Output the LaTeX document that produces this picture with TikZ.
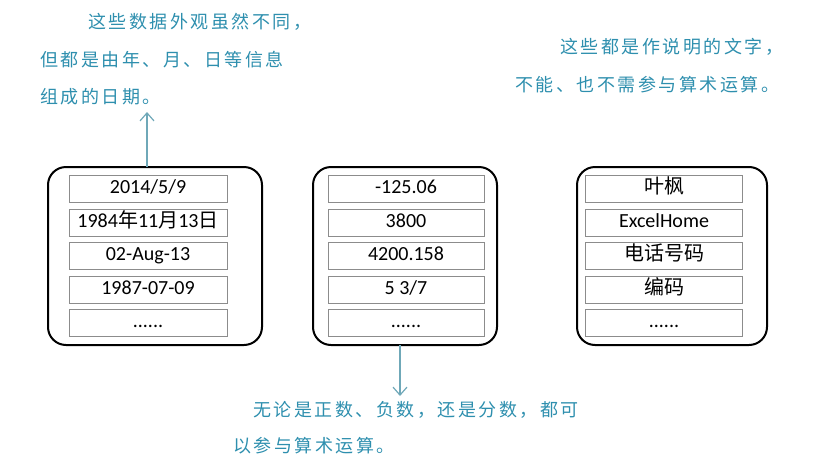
\documentclass[tikz,border=0pt]{standalone}
\usepackage{fontspec}
\setmainfont{Carlito}
\newfontfamily\cjk{Noto Sans CJK SC}
\newfontfamily\anno[LetterSpace=14]{Noto Sans CJK SC}
\usetikzlibrary{arrows.meta,positioning}
\definecolor{annoblue}{HTML}{2E8FAE}
\definecolor{arrowblue}{HTML}{6FA8B8}
\tikzset{
  outerbox/.style={draw=black,line width=2pt,rounded corners=18pt},
  cellbox/.style={draw=black!45,line width=0.8pt,minimum height=27pt,inner sep=0pt,
    text height=13pt,text depth=4pt,font=\fontsize{20}{22}\selectfont},
  annotext/.style={anchor=west,inner sep=0pt,text=annoblue,font=\anno\fontsize{18}{20}\selectfont},
  noteline/.style={draw=arrowblue,line width=1.2pt,-{Straight Barb[length=8pt,width=14pt]}}
}
\begin{document}
\begin{tikzpicture}[x=1pt,y=-1pt]
  \useasboundingbox (0,0) rectangle (817,469);
  % three outer frames
  \draw[outerbox] (48,167) rectangle (262,345);
  \draw[outerbox] (313,167) rectangle (497,345);
  \draw[outerbox] (577,167) rectangle (767,345);
  % cells: x of centre / width / texts
  \foreach \col/\cx/\w/\a/\b/\c/\d in {
      l/148/158/{2014\slash 5\slash 9}/{1984{\cjk 年}11{\cjk 月}13{\cjk 日}}/02-Aug-13/1987-07-09,
      m/406/156/-125.06/3800/4200.158/{5 3\slash 7},
      r/664/157/{\cjk 叶枫}/ExcelHome/{\cjk 电话号码}/{\cjk 编码}} {
    \node[cellbox,minimum width=\w pt] (\col1) at (\cx,189) {\a};
    \node[cellbox,minimum width=\w pt] (\col2) at (\cx,222.5) {\b};
    \node[cellbox,minimum width=\w pt] (\col3) at (\cx,255.5) {\c};
    \node[cellbox,minimum width=\w pt] (\col4) at (\cx,289.5) {\d};
    \node[cellbox,minimum width=\w pt] (\col5) at (\cx,322.5) {......};
  }
  % notes
  \node[annotext] (lt1) at (88,22) {这些数据外观虽然不同，};
  \node[annotext] (lt2) at (40,60) {但都是由年、月、日等信息};
  \node[annotext] (lt3) at (40,97) {组成的日期。};
  \node[annotext] (rt1) at (560,47) {这些都是作说明的文字，};
  \node[annotext] (rt2) at (515,85) {不能、也不需参与算术运算。};
  \node[annotext] (mt1) at (253,410) {无论是正数、负数，还是分数，都可};
  \node[annotext] (mt2) at (233,446) {以参与算术运算。};
  \coordinate (ltop) at (147,167);
  \coordinate (ltip) at (147,112);
  \coordinate (mbot) at (400,345);
  \coordinate (mtip) at (400,396);
  \draw[noteline] (ltop) -- (ltip);
  \draw[noteline] (mbot) -- (mtip);
\end{tikzpicture}
\end{document}
